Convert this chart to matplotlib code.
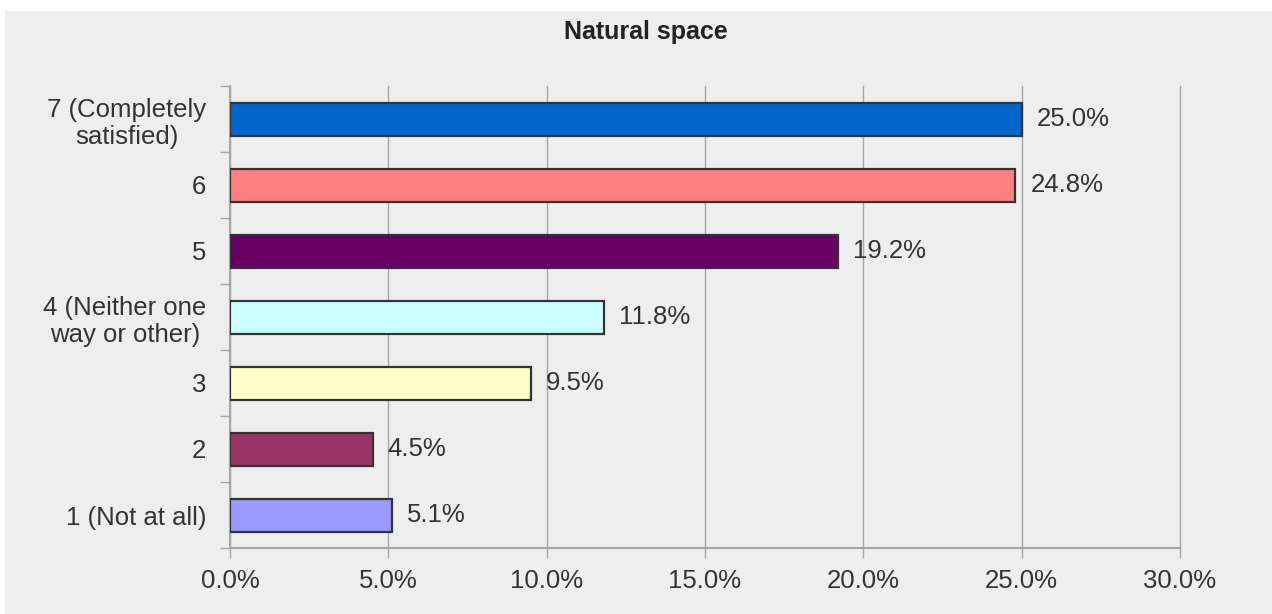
import numpy as np
import matplotlib.pyplot as plt
from matplotlib.patches import Rectangle
from matplotlib.ticker import FuncFormatter

categories = ["1 (Not at all)", "2", "3", "4 (Neither one\nway or other)", "5", "6",
              "7 (Completely\nsatisfied)"]
values = [5.1, 4.5, 9.5, 11.8, 19.2, 24.8, 25.0]
colors = ["#9999FF", "#993366", "#FFFFCC", "#CCFFFF", "#660066", "#FF8080", "#0066CC"]
xticks = [0, 5, 10, 15, 20, 25, 30]

plt.rcParams['font.family'] = ['Liberation Sans', 'DejaVu Sans']
textColor = "#333333"
gridColor = "#A6A6A6"

fig = plt.figure(figsize=(12.72, 6.14), dpi=100)
fig.patch.set_facecolor("white")
fig.patches.append(Rectangle((5 / 1272, 0), 1, (614 - 11) / 614, transform=fig.transFigure,
                             facecolor="#EEEEEE", edgecolor="none", zorder=-10))

ax = fig.add_axes([230 / 1272, 1 - 548 / 614, (1180 - 230) / 1272, (548 - 86) / 614])
ax.set_facecolor("none")

y = np.arange(len(categories))
ax.barh(y, values, height=0.5, color=colors, edgecolor="#333333", linewidth=1.6, zorder=3)

for i, v in enumerate(values):
    ax.annotate("%.1f%%" % v, (v, i), xytext=(11, 0), textcoords="offset points",
                va="center", ha="left", fontsize=18.5, color=textColor)

ax.set_xlim(0, 30)
ax.set_ylim(-0.5, len(categories) - 0.5)
ax.set_xticks(xticks)
ax.xaxis.set_major_formatter(FuncFormatter(lambda v, p: "%.1f%%" % v))
ax.set_yticks(y)
ax.set_yticklabels(categories, multialignment="center")
ax.set_yticks(np.arange(-0.5, len(categories), 1), minor=True)

ax.tick_params(axis="y", which="major", length=0, pad=17, labelsize=18.5, labelcolor=textColor)
ax.tick_params(axis="y", which="minor", length=7, width=1, color=gridColor)
ax.tick_params(axis="x", length=7, width=1, color=gridColor, pad=8, labelsize=18.5,
               labelcolor=textColor)

ax.grid(axis="x", color=gridColor, linewidth=1, zorder=0)
for line in ax.get_xgridlines():
    line.set_clip_on(False)
for s in ["top", "right"]:
    ax.spines[s].set_visible(False)
for s in ["left", "bottom"]:
    ax.spines[s].set_color(gridColor)
    ax.spines[s].set_linewidth(1.5)

fig.text(646 / 1272, 1 - 32 / 614, "Natural space", ha="center", va="center",
         fontsize=18, fontweight="bold", color="#222222")

fig.savefig("out.png", dpi=100)
